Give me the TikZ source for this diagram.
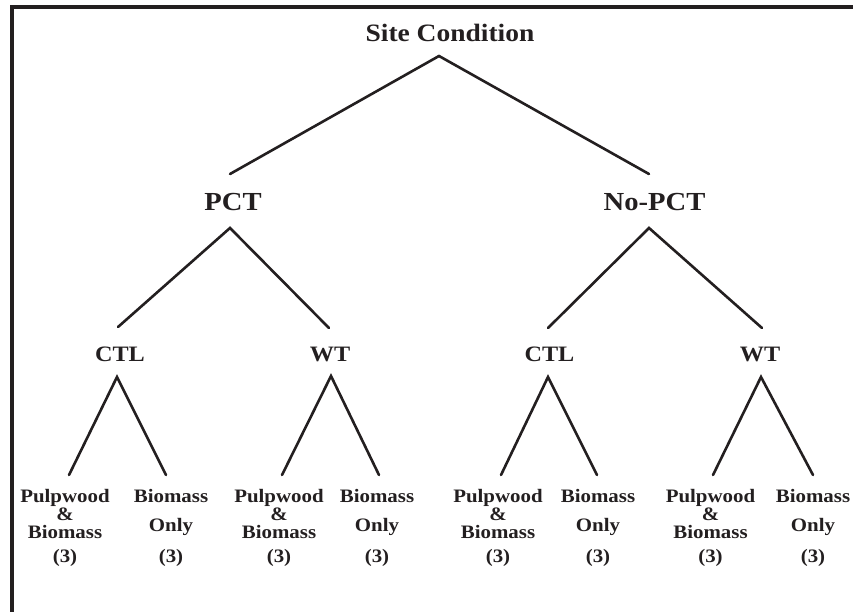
\documentclass[tikz,border=0pt]{standalone}
\usepackage{fontspec}
\setmainfont{Liberation Serif}[FakeStretch=1.1]
\definecolor{ink}{HTML}{231F20}
\begin{document}
\begin{tikzpicture}[x=1pt,y=-1pt,
  lbl/.style={anchor=base,inner sep=0pt,text=ink,font=\bfseries},
  top/.style={lbl,font=\fontsize{25}{30}\selectfont\bfseries},
  mid/.style={lbl,font=\fontsize{26}{30}\selectfont\bfseries},
  low/.style={lbl,font=\fontsize{22}{26}\selectfont\bfseries},
  leaf/.style={lbl,font=\fontsize{19}{18}\selectfont\bfseries},
  edge/.style={draw=ink,line width=2.6pt,line cap=round,line join=miter}]
\useasboundingbox (0,0) rectangle (853,612);
\draw[ink,line width=4pt,line join=miter] (12,612) -- (12,7) -- (853,7);

% nodes
\node[top] (site) at (450,42) {Site Condition};
\node[mid] (pct) at (233,211) {PCT};
\node[mid] (nopct) at (654.5,211) {No-PCT};
\node[low] (ctl1) at (120,361) {CTL};
\node[low] (wt1) at (330,361) {WT};
\node[low] (ctl2) at (549.5,361) {CTL};
\node[low] (wt2) at (760,361) {WT};
\newcommand{\pbtext}{\begin{tabular}[t]{@{}c@{}}Pulpwood\\ \&\\ Biomass\\[5pt] (3)\end{tabular}}
\newcommand{\botext}{\begin{tabular}[t]{@{}c@{}}Biomass\\[11pt] Only\\[12pt] (3)\end{tabular}}
\node[leaf] (pb1) at (65,502) {\pbtext};
\node[leaf] (bo1) at (171,502) {\botext};
\node[leaf] (pb2) at (279,502) {\pbtext};
\node[leaf] (bo2) at (377,502) {\botext};
\node[leaf] (pb3) at (498,502) {\pbtext};
\node[leaf] (bo3) at (598,502) {\botext};
\node[leaf] (pb4) at (710.5,502) {\pbtext};
\node[leaf] (bo4) at (813,502) {\botext};

% connector end points
\coordinate (site-a) at (439,56);
\coordinate (pct-t) at (230,174);
\coordinate (nopct-t) at (649,174);
\coordinate (pct-a) at (230,228);
\coordinate (nopct-a) at (649,228);
\coordinate (ctl1-t) at (118,327);
\coordinate (wt1-t) at (329,328);
\coordinate (ctl2-t) at (548,328);
\coordinate (wt2-t) at (762,328);
\coordinate (ctl1-a) at (117,377);
\coordinate (wt1-a) at (331,376);
\coordinate (ctl2-a) at (548,377);
\coordinate (wt2-a) at (761,377);
\coordinate (pb1-t) at (69,475);
\coordinate (bo1-t) at (166,475);
\coordinate (pb2-t) at (282,475);
\coordinate (bo2-t) at (379,475);
\coordinate (pb3-t) at (501,475);
\coordinate (bo3-t) at (597,475);
\coordinate (pb4-t) at (713,475);
\coordinate (bo4-t) at (813,475);

% connectors
\draw[edge] (pct-t) -- (site-a) -- (nopct-t);
\draw[edge] (ctl1-t) -- (pct-a) -- (wt1-t);
\draw[edge] (ctl2-t) -- (nopct-a) -- (wt2-t);
\draw[edge] (pb1-t) -- (ctl1-a) -- (bo1-t);
\draw[edge] (pb2-t) -- (wt1-a) -- (bo2-t);
\draw[edge] (pb3-t) -- (ctl2-a) -- (bo3-t);
\draw[edge] (pb4-t) -- (wt2-a) -- (bo4-t);
\end{tikzpicture}
\end{document}
